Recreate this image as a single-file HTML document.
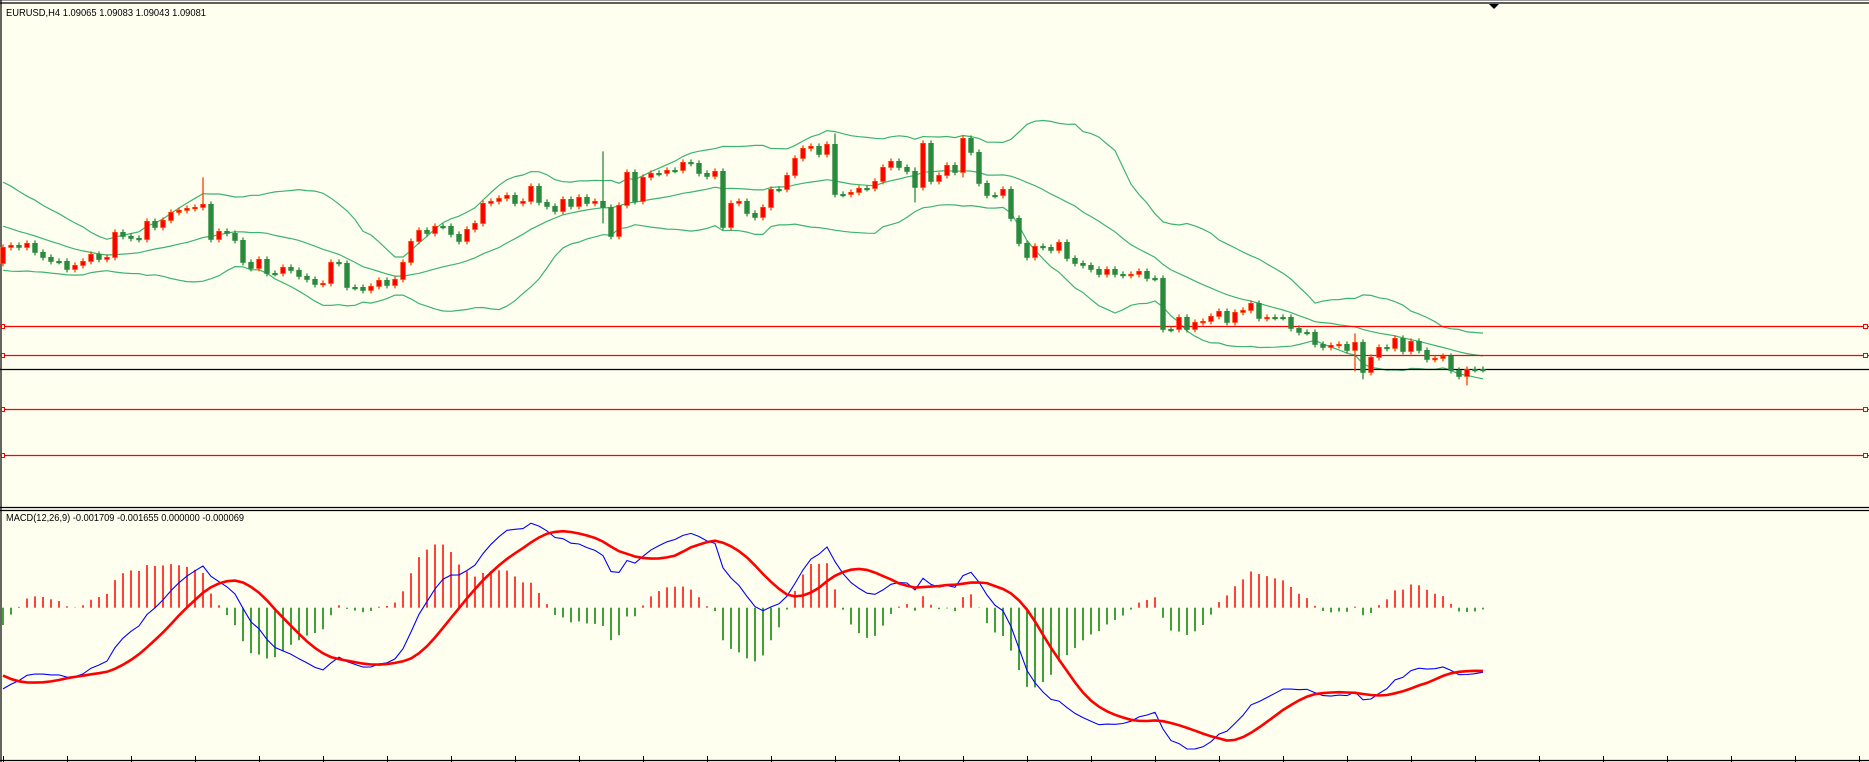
<!DOCTYPE html>
<html>
<head>
<meta charset="utf-8">
<style>
  html,body{margin:0;padding:0;background:#fffff0;}
  svg{display:block;}
  text{font-family:"Liberation Sans",sans-serif;font-size:10.5px;fill:#000;}
</style>
</head>
<body>
<svg id="chart" width="1869" height="762" viewBox="0 0 1869 762" xmlns="http://www.w3.org/2000/svg">
  <rect x="0" y="0" width="1869" height="762" fill="#fffff0"/>
  <g id="frame">
    <line x1="0" y1="0.5" x2="1869" y2="0.5" stroke="#999" stroke-width="1"/>
    <line x1="0" y1="3" x2="1869" y2="3" stroke="#000" stroke-width="1.2"/>
    <line x1="1" y1="0" x2="1" y2="762" stroke="#000" stroke-width="1.2"/>
    <line x1="0" y1="507.5" x2="1869" y2="507.5" stroke="#000" stroke-width="1.2"/>
    <line x1="0" y1="510.5" x2="1869" y2="510.5" stroke="#000" stroke-width="1.2"/>
    <line x1="0" y1="760.5" x2="1869" y2="760.5" stroke="#000" stroke-width="1.2"/>
    <polygon points="1489,4 1499,4 1494,9" fill="#000"/>
  </g>
  <g id="bands"></g>
  <g id="levels"></g>
  <g id="candles"></g>
  <g id="macd"></g>
  <g id="ticks"></g>
  <text x="6" y="16" textLength="200" lengthAdjust="spacingAndGlyphs">EURUSD,H4  1.09065 1.09083 1.09043 1.09081</text>
  <text x="6" y="521" textLength="238" lengthAdjust="spacingAndGlyphs">MACD(12,26,9) -0.001709 -0.001655 0.000000 -0.000069</text>
</svg>
<script>
// ---- data ----
const historyCloses = [1.1089,1.1093,1.1091,1.1087,1.1092,1.1095,1.1091,1.1087,1.1089,1.1092,1.1090,1.1094,1.1091,1.1088,1.1087,1.1087,1.1082,1.1084,1.1078,1.1073,1.1075,1.1069,1.1064,1.1066,1.1059,1.1053,1.1055,1.1047,1.1041,1.1037,1.1031,1.1027,1.1022,1.1017,1.1014];
const closes = [
1.1030,1.1032,1.1030,1.1034,1.1025,1.1020,1.1016,1.1016,1.1008,1.1012,1.1016,1.1023,1.1018,1.1020,1.1045,1.1041,1.1039,1.1038,1.1056,1.1050,1.1057,1.1065,1.1067,1.1069,1.1070,1.1073,1.1038,1.1046,1.1044,1.1037,1.1015,1.1009,1.1018,1.1004,1.1004,1.1010,1.1007,1.1001,1.0998,1.0993,1.0994,1.1015,1.1014,1.0990,1.0990,1.0987,1.0991,1.0997,1.0992,1.0998,
1.1015,1.1036,1.1047,1.1044,1.1051,1.1051,1.1043,1.1036,1.1048,1.1054,1.1074,1.1076,1.1079,1.1082,1.1074,1.1076,1.1091,1.1075,1.1071,1.1066,1.1078,1.1071,1.1080,1.1074,1.1076,
1.1070,1.1041,1.1072,1.1105,1.1076,1.1100,1.1104,1.1104,1.1107,1.1107,1.1115,1.1114,1.1104,1.1101,1.1106,1.1050,1.1074,1.1076,1.1064,1.1060,1.1070,1.1088,1.1088,1.1102,1.1119,1.1129,1.1131,1.1123,1.1133,1.1083,1.1083,1.1085,1.1089,1.1089,1.1096,1.1110,1.1116,1.1110,1.1106,1.1090,1.1134,1.1096,1.1102,1.1112,1.1105,1.1139,1.1125,1.1094,1.1082,1.1082,1.1088,1.1059,1.1034,1.1020,1.1031,
1.1030,1.1027,1.1035,1.1019,1.1014,1.1012,1.1008,1.1003,1.1008,1.1003,1.1002,1.1003,1.1006,1.0999,1.0999,1.0948,1.0948,1.0960,1.0948,1.0955,1.0956,1.0961,1.0966,1.0955,1.0965,1.0967,1.0974,1.0959,1.0960,1.0960,1.0960,1.0949,1.0945,1.0945,1.0933,1.0930,1.0932,1.0933,1.0927,
1.0935,1.0905,1.0920,1.0930,1.0929,1.0939,1.0926,1.0936,1.0927,1.0918,1.0919,1.0921,1.0907,1.0901,1.0908,1.0908,1.0908];
const firstOpen = 1.1014;
const spikeIdx  = [25, 75, 104, 114, 120, 169, 170, 183];
const spikeHigh = [1.1100, 1.1126, 1.1144, 1.1110, 1.1141, 1.0944, 1.0936, 1.0909];
const spikeLow  = [1.1070, 1.1054, 1.1080, 1.1075, 1.1100, 1.0906, 1.0898, 1.0892];
const levelPrices = [1.09511, 1.09221, 1.08684, 1.08224];
const currentPrice = 1.09081;
const bandPeriod = 20, bandDev = 2;
const macdFast = 12, macdSlow = 26, macdSignal = 9;

// ---- axes ----
const NS = "http://www.w3.org/2000/svg";
const N = closes.length;
function xOf(i){ return 3 + i*8; }
function yP(p){ return 369.3 - (p - currentPrice)*10000; }
function yM(v){ return 607.7 - v*10000*4.9; }
const histScale = 1.3;
function mk(tag, attrs, parent){
  const el = document.createElementNS(NS, tag);
  for (const k in attrs) el.setAttribute(k, attrs[k]);
  parent.appendChild(el);
  return el;
}

// ---- series ----
const all = historyCloses.concat(closes);
const H = historyCloses.length;

// Bollinger
const gB = document.getElementById('bands');
const up=[], mid=[], lo=[];
for (let j=H; j<all.length; j++){
  const w = all.slice(j-bandPeriod+1, j+1);
  const m = w.reduce((a,b)=>a+b,0)/w.length;
  const sd = Math.sqrt(w.reduce((a,b)=>a+(b-m)*(b-m),0)/w.length);
  mid.push(m); up.push(m+bandDev*sd); lo.push(m-bandDev*sd);
}
[['upper',up],['middle',mid],['lower',lo]].forEach(([nm,arr])=>{
  const pts = arr.map((v,i)=>xOf(i).toFixed(1)+','+yP(v).toFixed(1)).join(' ');
  const pl = mk('polyline',{points:pts,fill:'none',stroke:'#3cb371','stroke-width':1.2},gB);
  
  
});

// Levels
const gL = document.getElementById('levels');
levelPrices.forEach((p,k)=>{
  const y = Math.round(yP(p))+0.5;
  const ln = mk('line',{x1:0,y1:y,x2:1869,y2:y,stroke:'#ff0000','stroke-width':1.2},gL);
  
  
  const s1 = mk('rect',{x:1863.5,y:y-2,width:4,height:4,fill:'#fffff0',stroke:'#ff0000','stroke-width':1},gL);
  
  
  const s2 = mk('rect',{x:1.5,y:y-2,width:3,height:4,fill:'#fffff0',stroke:'#ff0000','stroke-width':1},gL);
  
  
});
{
  const y = Math.round(yP(currentPrice))+0.5;
  const ln = mk('line',{x1:0,y1:y,x2:1869,y2:y,stroke:'#000','stroke-width':1.2},gL);
  
  
}

// Candles
const gC = document.getElementById('candles');
for (let i=0;i<N;i++){
  const o = i===0 ? firstOpen : closes[i-1];
  const c = closes[i];
  let hi = Math.max(o,c)+0.0003, lw = Math.min(o,c)-0.0003;
  const s = spikeIdx.indexOf(i);
  if (s>=0){ hi = Math.max(hi, spikeHigh[s]); lw = Math.min(lw, spikeLow[s]); }
  const bull = c > o;
  const col = bull ? '#ff3c00' : '#2b8a3e';
  const fill = bull ? '#ff0000' : '#2b8a3e';
  const x = xOf(i);
  const g = mk('g',{},gC);
  
  
  mk('line',{x1:x,y1:yP(hi),x2:x,y2:yP(lw),stroke:col,'stroke-width':1.3},g);
  const yt = yP(Math.max(o,c)), yb = yP(Math.min(o,c));
  const h = Math.max(yb-yt, 1.4);
  mk('rect',{x:x-2.3,y:yt,width:4.6,height:h,fill:fill,stroke:col,'stroke-width':0.8},g);
}

// MACD
const gM = document.getElementById('macd');
function ema(arr,p){ const k=2/(p+1); const out=[arr[0]]; for(let i=1;i<arr.length;i++) out.push(arr[i]*k+out[i-1]*(1-k)); return out; }
const ef = ema(all,macdFast), es = ema(all,macdSlow);
const macdAll = all.map((v,i)=>ef[i]-es[i]);
const sigAll = macdAll.map((v,i)=>{ const w = macdAll.slice(Math.max(0,i-macdSignal+1), i+1); return w.reduce((a,b)=>a+b,0)/w.length; });
const macdVals = macdAll.slice(H), sigVals = sigAll.slice(H);
for (let i=0;i<N;i++){
  const d = (macdVals[i]-sigVals[i])*histScale;
  const x = xOf(i);
  const ln = mk('line',{x1:x,y1:yM(0),x2:x,y2:yM(d),stroke: d>=0?'#ff0000':'#008000','stroke-width':1.5},gM);
  
  
}
{
  const pm = mk('polyline',{points:macdVals.map((v,i)=>xOf(i)+','+yM(v).toFixed(1)).join(' '),fill:'none',stroke:'#0000ff','stroke-width':1.1},gM);
  
  
  const ps = mk('polyline',{points:sigVals.map((v,i)=>xOf(i)+','+yM(v).toFixed(1)).join(' '),fill:'none',stroke:'#ff0000','stroke-width':2.6},gM);
  
  
}

// Time ticks
const gT = document.getElementById('ticks');
for (let i=0;i<N+80;i+=8){
  const x = xOf(i)+0.5;
  if (x>1869) break;
  const t = mk('line',{x1:x,y1:756,x2:x,y2:762,stroke:'#000','stroke-width':1},gT);
  
  
}
</script>
</body>
</html>
